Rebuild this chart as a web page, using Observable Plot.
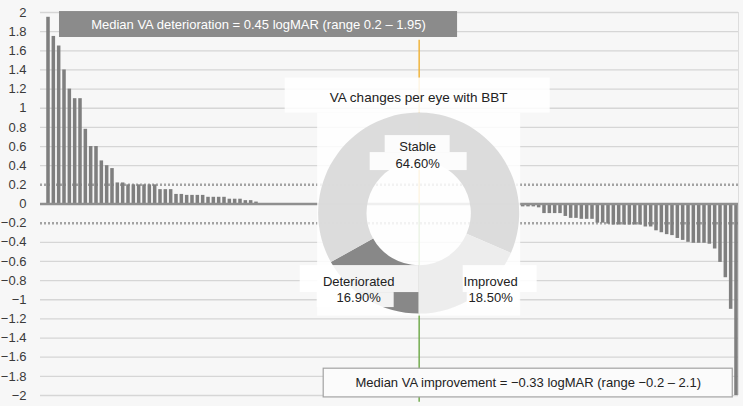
<!DOCTYPE html>
<html><head><meta charset="utf-8">
<script src="https://cdn.jsdelivr.net/npm/d3@7"></script>
<script src="https://cdn.jsdelivr.net/npm/@observablehq/plot@0.6"></script>
<style>
html,body{margin:0;padding:0;background:#f7f7f7;}
#chart{width:743px;height:406px;overflow:hidden;}
</style></head><body><div id="chart"></div>
<script>
// ---- data: VA change per eye (logMAR), sorted descending ----
const deterioratedChanges = [1.95,1.75,1.65,1.4,1.2,1.1,1.1,0.78,0.6,0.6,0.45,0.4,0.37,
  0.22,0.22,0.2,0.2,0.2,0.2,0.2,0.2];
const smallPositiveChanges = [0.15,0.15,0.15,0.1,0.1,0.09,0.09,0.09,0.09,0.07,0.07,0.07,0.07,
  0.05,0.05,0.05,0.035,0.035,0.02];
const unchanged = [0,0,0,0,0,0,0,0,0,0,0,0,0,0,0,0,0,0,0,0,0,0,0,0,0,0,0,0,0,0,0,0,0,0,0,0,0,0,0,0,0,0,0,0,0,0,0,0,0];
const smallNegativeChanges = [-0.03,-0.03,-0.03,-0.04,-0.1,-0.1,-0.1,-0.1,-0.13,-0.15,-0.15,-0.16,-0.16,-0.16,
  -0.2,-0.2,-0.21];
const improvedChanges = [-0.22,-0.22,-0.22,-0.22,-0.22,-0.22,-0.24,-0.24,-0.28,-0.3,-0.32,-0.33,-0.36,-0.38,
  -0.4,-0.41,-0.41,-0.41,-0.42,-0.47,-0.61,-0.77,-1.1,-2.1];

const yTicks = [2,1.8,1.6,1.4,1.2,1,0.8,0.6,0.4,0.2,0,-0.2,-0.4,-0.6,-0.8,-1,-1.2,-1.4,-1.6,-1.8,-2];
const thresholds = [0.2,-0.2];

const donutTitle = "VA changes per eye with BBT";
const donutCategories = ["Deteriorated","Stable","Improved"];
const donutShares = [16.9, 64.6, 18.5];
const donutLabels = ["16.90%","64.60%","18.50%"];

const annotationTexts = [
  "Median VA deterioration = 0.45 logMAR (range 0.2 \u2013 1.95)",
  "Median VA improvement = \u22120.33 logMAR (range \u22120.2 \u2013 2.1)"
];

// ---- layout ----
const values = [...deterioratedChanges, ...smallPositiveChanges, ...unchanged, ...smallNegativeChanges, ...improvedChanges];
const eyes = values.map((v, i) => ({i, v}));
const gridTicks = yTicks.filter(t => !thresholds.includes(t) && t !== 0);
const centerX = 69.5;          // x (eye index) of the inset / divider
const donutCY = -0.1;          // y (logMAR) of donut centre
const rOuterU = 1.05, rInnerU = 0.545;
const donutColors = ["#7f7f7f", "#d9d9d9", "#ececec"];
const donutData = donutCategories.map((c, k) => ({c, share: donutShares[k], label: donutLabels[k]}));
// label layout (px offsets from donut centre): text lines and backing boxes
const labelLayout = {
  Deteriorated: {dx: -60, dy: [68, 84], boxes: [[-119, 0, 52, 79], [-102, -25, 79, 94]]},
  Stable:       {dx: -1,  dy: [-67, -50], boxes: [[-34, 31, -78, -61], [-49, 48, -61, -43]]},
  Improved:     {dx: 72,  dy: [68, 84], boxes: [[44, 118, 52, 79], [48, 100, 79, 94]]}
};
const annotations = [
  {text: annotationTexts[0], x1: 2.06, x2: 76.7, y1: 1.739, y2: 2.01, fill: "#8b8b8b", stroke: "none", color: "#ffffff"},
  {text: annotationTexts[1], x1: 51.6, x2: 128.3, y1: -1.72, y2: -2.02, fill: "#fbfbfb", stroke: "#a3a3a3", color: "#222222"}
];

const fmt = d => d < 0 ? "\u2212" + (-d) : String(d);

function donutMark(index, scales) {
  const cx = scales.x(centerX), cy = scales.y(donutCY);
  const rOuter = scales.y(0) - scales.y(rOuterU);
  const rInner = scales.y(0) - scales.y(rInnerU);
  const g = d3.create("svg:g");
  // translucent white panels of the inset chart
  g.append("rect").attr("x", cx - 134).attr("y", cy - rOuter - 35).attr("width", 265).attr("height", 35)
    .attr("fill", "#ffffff").attr("fill-opacity", 0.86);
  g.append("rect").attr("x", cx - rOuter - 1).attr("y", cy - rOuter).attr("width", 2 * rOuter + 2).attr("height", 2 * rOuter + 2)
    .attr("fill", "#ffffff").attr("fill-opacity", 0.86);
  const pie = d3.pie().sort(null).value(d => d.share).startAngle(Math.PI).endAngle(3 * Math.PI);
  const arc = d3.arc().innerRadius(rInner).outerRadius(rOuter);
  g.append("g").attr("transform", `translate(${cx},${cy})`)
    .selectAll("path").data(pie(donutData)).join("path")
    .attr("d", arc).attr("fill", (d, k) => donutColors[k]).attr("fill-opacity", 0.93);
  // title
  g.append("text").attr("x", cx).attr("y", cy - 116).attr("text-anchor", "middle").attr("dy", "0.35em")
    .attr("fill", "#222").attr("font-size", 13.5).text(donutTitle);
  // labels
  donutData.forEach(d => {
    const L = labelLayout[d.c];
    L.boxes.forEach(b => {
      g.append("rect").attr("x", cx + b[0]).attr("y", cy + b[2]).attr("width", b[1] - b[0]).attr("height", b[3] - b[2])
        .attr("fill", "#ffffff").attr("fill-opacity", 0.9);
    });
    [d.c, d.label].forEach((t, k) => {
      g.append("text").attr("x", cx + L.dx).attr("y", cy + L.dy[k]).attr("dy", "0.35em")
        .attr("text-anchor", "middle").attr("fill", "#222").attr("font-size", 13).text(t);
    });
  });
  return g.node();
}

const plot = Plot.plot({
  width: 743, height: 406,
  marginLeft: 40, marginRight: 5, marginTop: 12, marginBottom: 11,
  x: {type: "linear", domain: [-1.5, 129.375], axis: null},
  y: {domain: [-2, 2]},
  style: {background: "#f7f7f7", fontFamily: "'Liberation Sans', Arial, Helvetica, sans-serif", fontSize: "13px", color: "#3a3a3a", overflow: "visible"},
  marks: [
    Plot.ruleY(gridTicks, {stroke: "#d6d6d6", strokeWidth: 1.3}),
    Plot.ruleX([129.375], {stroke: "#dddddd", strokeWidth: 1}),
    Plot.ruleY(thresholds, {stroke: "#a3a3a3", strokeWidth: 2.5, strokeDasharray: "2,2"}),
    Plot.rect(eyes, {x1: d => d.i - 0.33, x2: d => d.i + 0.33, y1: d => 0, y2: "v", fill: "#7f7f7f", clip: true}),
    Plot.ruleY([0], {stroke: "#8f8f8f", strokeWidth: 2.5}),
    Plot.ruleX([centerX], {y1: d => 1.71, y2: d => 0, stroke: "#efb43d", strokeWidth: 1.5}),
    Plot.ruleX([centerX], {y1: d => 0, y2: d => -2.07, stroke: "#72ab4e", strokeWidth: 1.5}),
    donutMark,
    Plot.rect(annotations, {x1: "x1", x2: "x2", y1: "y1", y2: "y2", fill: "fill", stroke: "stroke", strokeWidth: 1.2}),
    Plot.text(annotations, {x: d => (d.x1 + d.x2) / 2, y: d => (d.y1 + d.y2) / 2, text: "text", fill: "color", fontSize: 13}),
    Plot.axisY(yTicks, {tickSize: 0, tickPadding: 14, tickFormat: fmt, label: null, fontSize: 13})
  ]
});
document.getElementById("chart").append(plot);
</script></body></html>
